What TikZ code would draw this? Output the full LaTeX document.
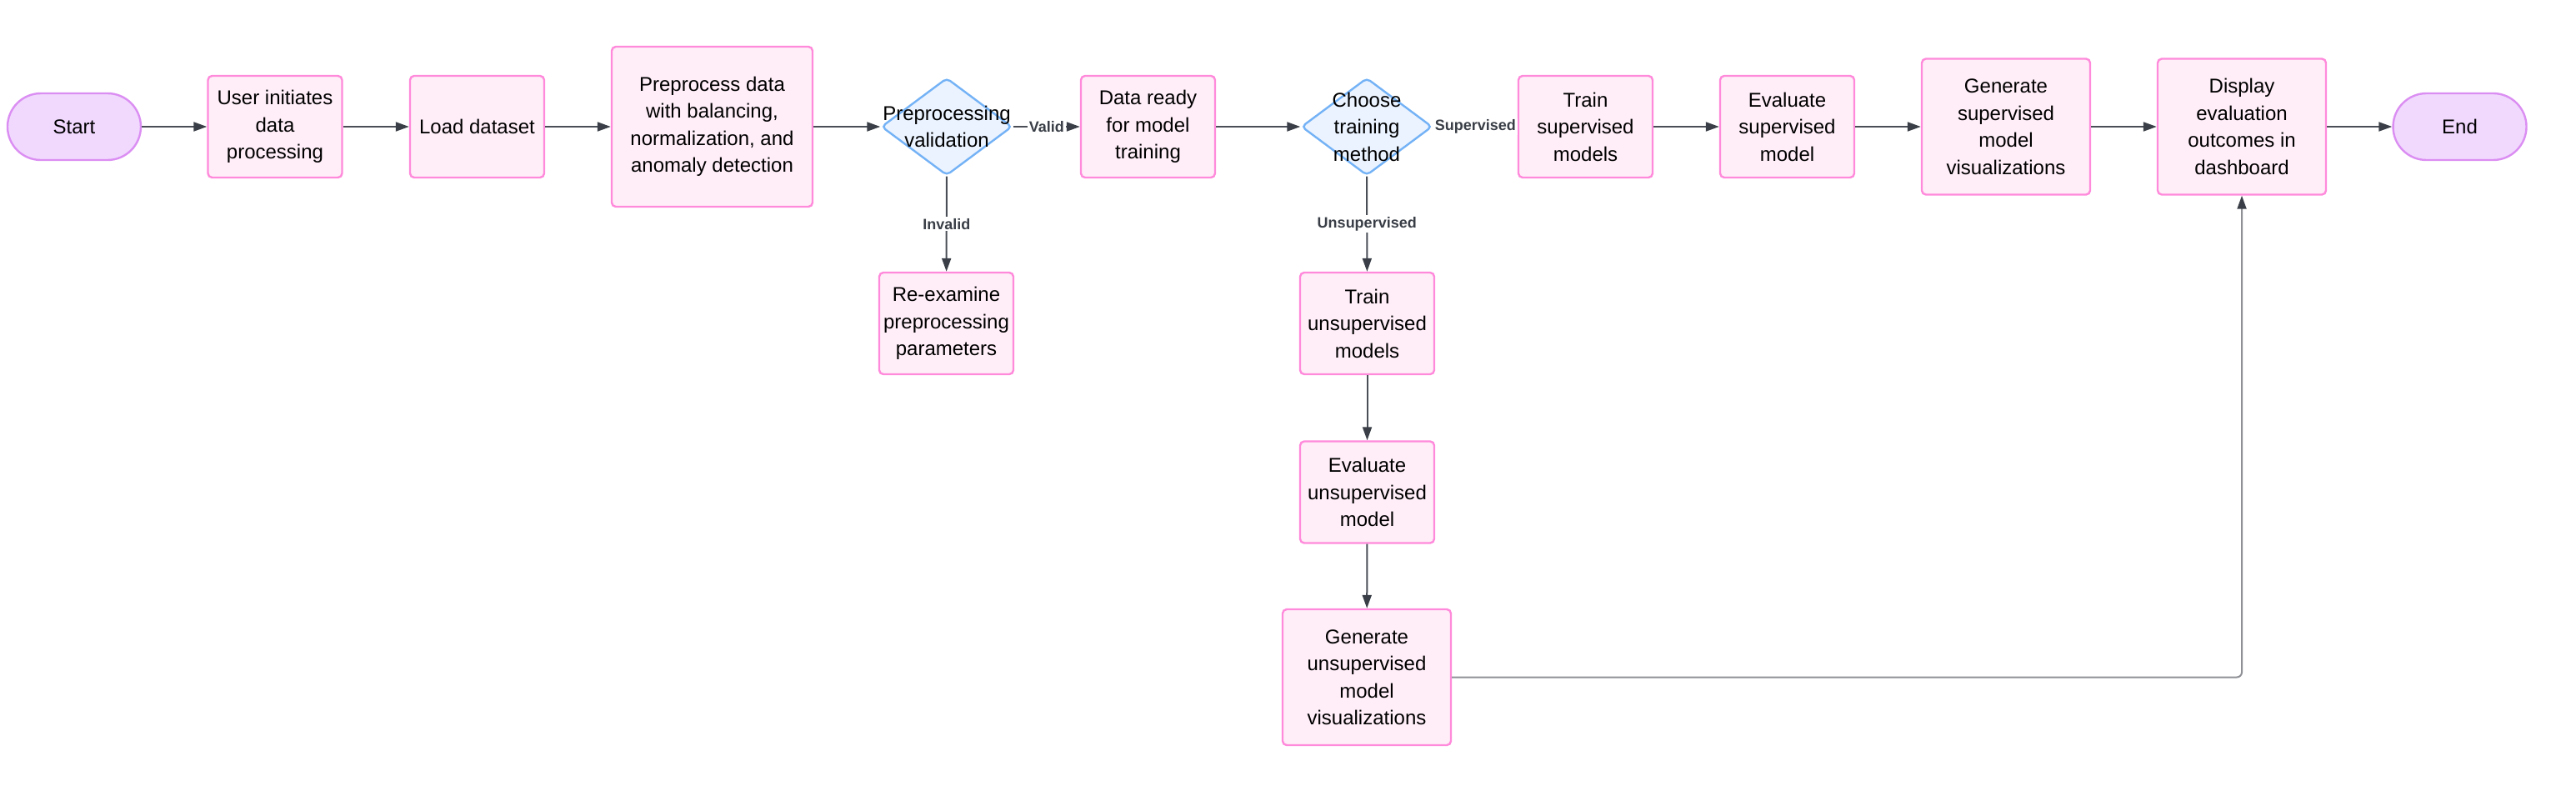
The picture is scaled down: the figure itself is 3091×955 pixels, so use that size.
\documentclass[tikz,border=0pt]{standalone}
\usepackage{fontspec}
\setmainfont{Liberation Sans}
\usetikzlibrary{arrows.meta,shapes.geometric}
\definecolor{boxfill}{HTML}{FFEEF8}
\definecolor{boxdraw}{HTML}{FF8ADB}
\definecolor{termfill}{HTML}{F1D9FE}
\definecolor{termdraw}{HTML}{DB8EF2}
\definecolor{decfill}{HTML}{EAF3FF}
\definecolor{decdraw}{HTML}{74B2F6}
\definecolor{edgecol}{HTML}{4A4F57}
\definecolor{tipcol}{HTML}{3A3F47}
\definecolor{lblcol}{HTML}{3A3F47}
\definecolor{longcol}{HTML}{8E9096}
\tikzset{
  x=1pt, y=-1pt,
  txt/.style={font=\fontsize{24}{32.5}\selectfont, text=black, align=center},
  procbox/.style={txt, draw=boxdraw, fill=boxfill, line width=2.4pt, rounded corners=5pt, inner sep=0pt, minimum width=161pt, minimum height=122pt},
  termbox/.style={txt, draw=termdraw, fill=termfill, line width=2.4pt, rounded corners=40pt, inner sep=0pt, minimum width=160pt, minimum height=80pt},
  decbox/.style={diamond, draw=decdraw, fill=decfill, line width=2.4pt, rounded corners=5pt, inner sep=0pt, minimum width=157pt, minimum height=117pt},
  flow/.style={draw=edgecol, line width=2pt, -{Triangle[length=16pt,width=11pt,color=tipcol]}},
  elabel/.style={font=\fontsize{18}{20}\selectfont\bfseries, text=lblcol, fill=white, inner sep=2pt}
}
\begin{document}
\begin{tikzpicture}
\useasboundingbox (0,0) rectangle (3091,955);
% main row
\node[termbox] (start) at (89,152) {Start};
\node[procbox] (n1) at (330,152) {User initiates\\data\\processing};
\node[procbox] (n2) at (572.5,152) {Load dataset};
\node[procbox, minimum width=241pt, minimum height=192pt] (n3) at (854.5,152) {Preprocess data\\with balancing,\\normalization, and\\anomaly detection};
\node[decbox] (d1) at (1136,152) {};
\node[txt] (d1t) at (1136,152) {Preprocessing\\validation};
\node[procbox] (n4) at (1377.5,152) {Data ready\\for model\\training};
\node[decbox] (d2) at (1640,152) {};
\node[txt] (d2t) at (1640,152) {Choose\\training\\method};
\node[procbox] (n5) at (1902.5,152) {Train\\supervised\\models};
\node[procbox] (n6) at (2144.5,152) {Evaluate\\supervised\\model};
\node[procbox, minimum width=202pt, minimum height=163pt] (n7) at (2407,152) {Generate\\supervised\\model\\visualizations};
\node[procbox, minimum width=202pt, minimum height=163pt] (n8) at (2690,152) {Display\\evaluation\\outcomes in\\dashboard};
\node[termbox] (end) at (2951.5,152) {End};
% lower branches
\node[procbox] (r1) at (1135.5,388) {Re-examine\\preprocessing\\parameters};
\node[procbox] (u1) at (1640.5,388) {Train\\unsupervised\\models};
\node[procbox] (u2) at (1640.5,590.5) {Evaluate\\unsupervised\\model};
\node[procbox, minimum width=202pt, minimum height=163pt] (u3) at (1640,812.5) {Generate\\unsupervised\\model\\visualizations};
\coordinate (bend) at (2690,812.5);
% connectors
\draw[flow] (start) -- (n1);
\draw[flow] (n1) -- (n2);
\draw[flow] (n2) -- (n3);
\draw[flow] (n3) -- (d1);
\draw[flow] (d1) -- node[elabel] {Valid} (n4);
\draw[flow] (d1) -- node[elabel] {Invalid} (r1);
\draw[flow] (n4) -- (d2);
\draw[flow] (d2) -- node[elabel] {Supervised} (n5);
\draw[flow] (d2) -- node[elabel] {Unsupervised} (u1);
\draw[flow] (n5) -- (n6);
\draw[flow] (n6) -- (n7);
\draw[flow] (n7) -- (n8);
\draw[flow] (n8) -- (end);
\draw[flow] (u1) -- (u2);
\draw[flow] (u2) -- (u3);
\draw[flow, draw=longcol, rounded corners=6pt] (u3.east) -- (bend) -- (n8.south);
\end{tikzpicture}
\end{document}
